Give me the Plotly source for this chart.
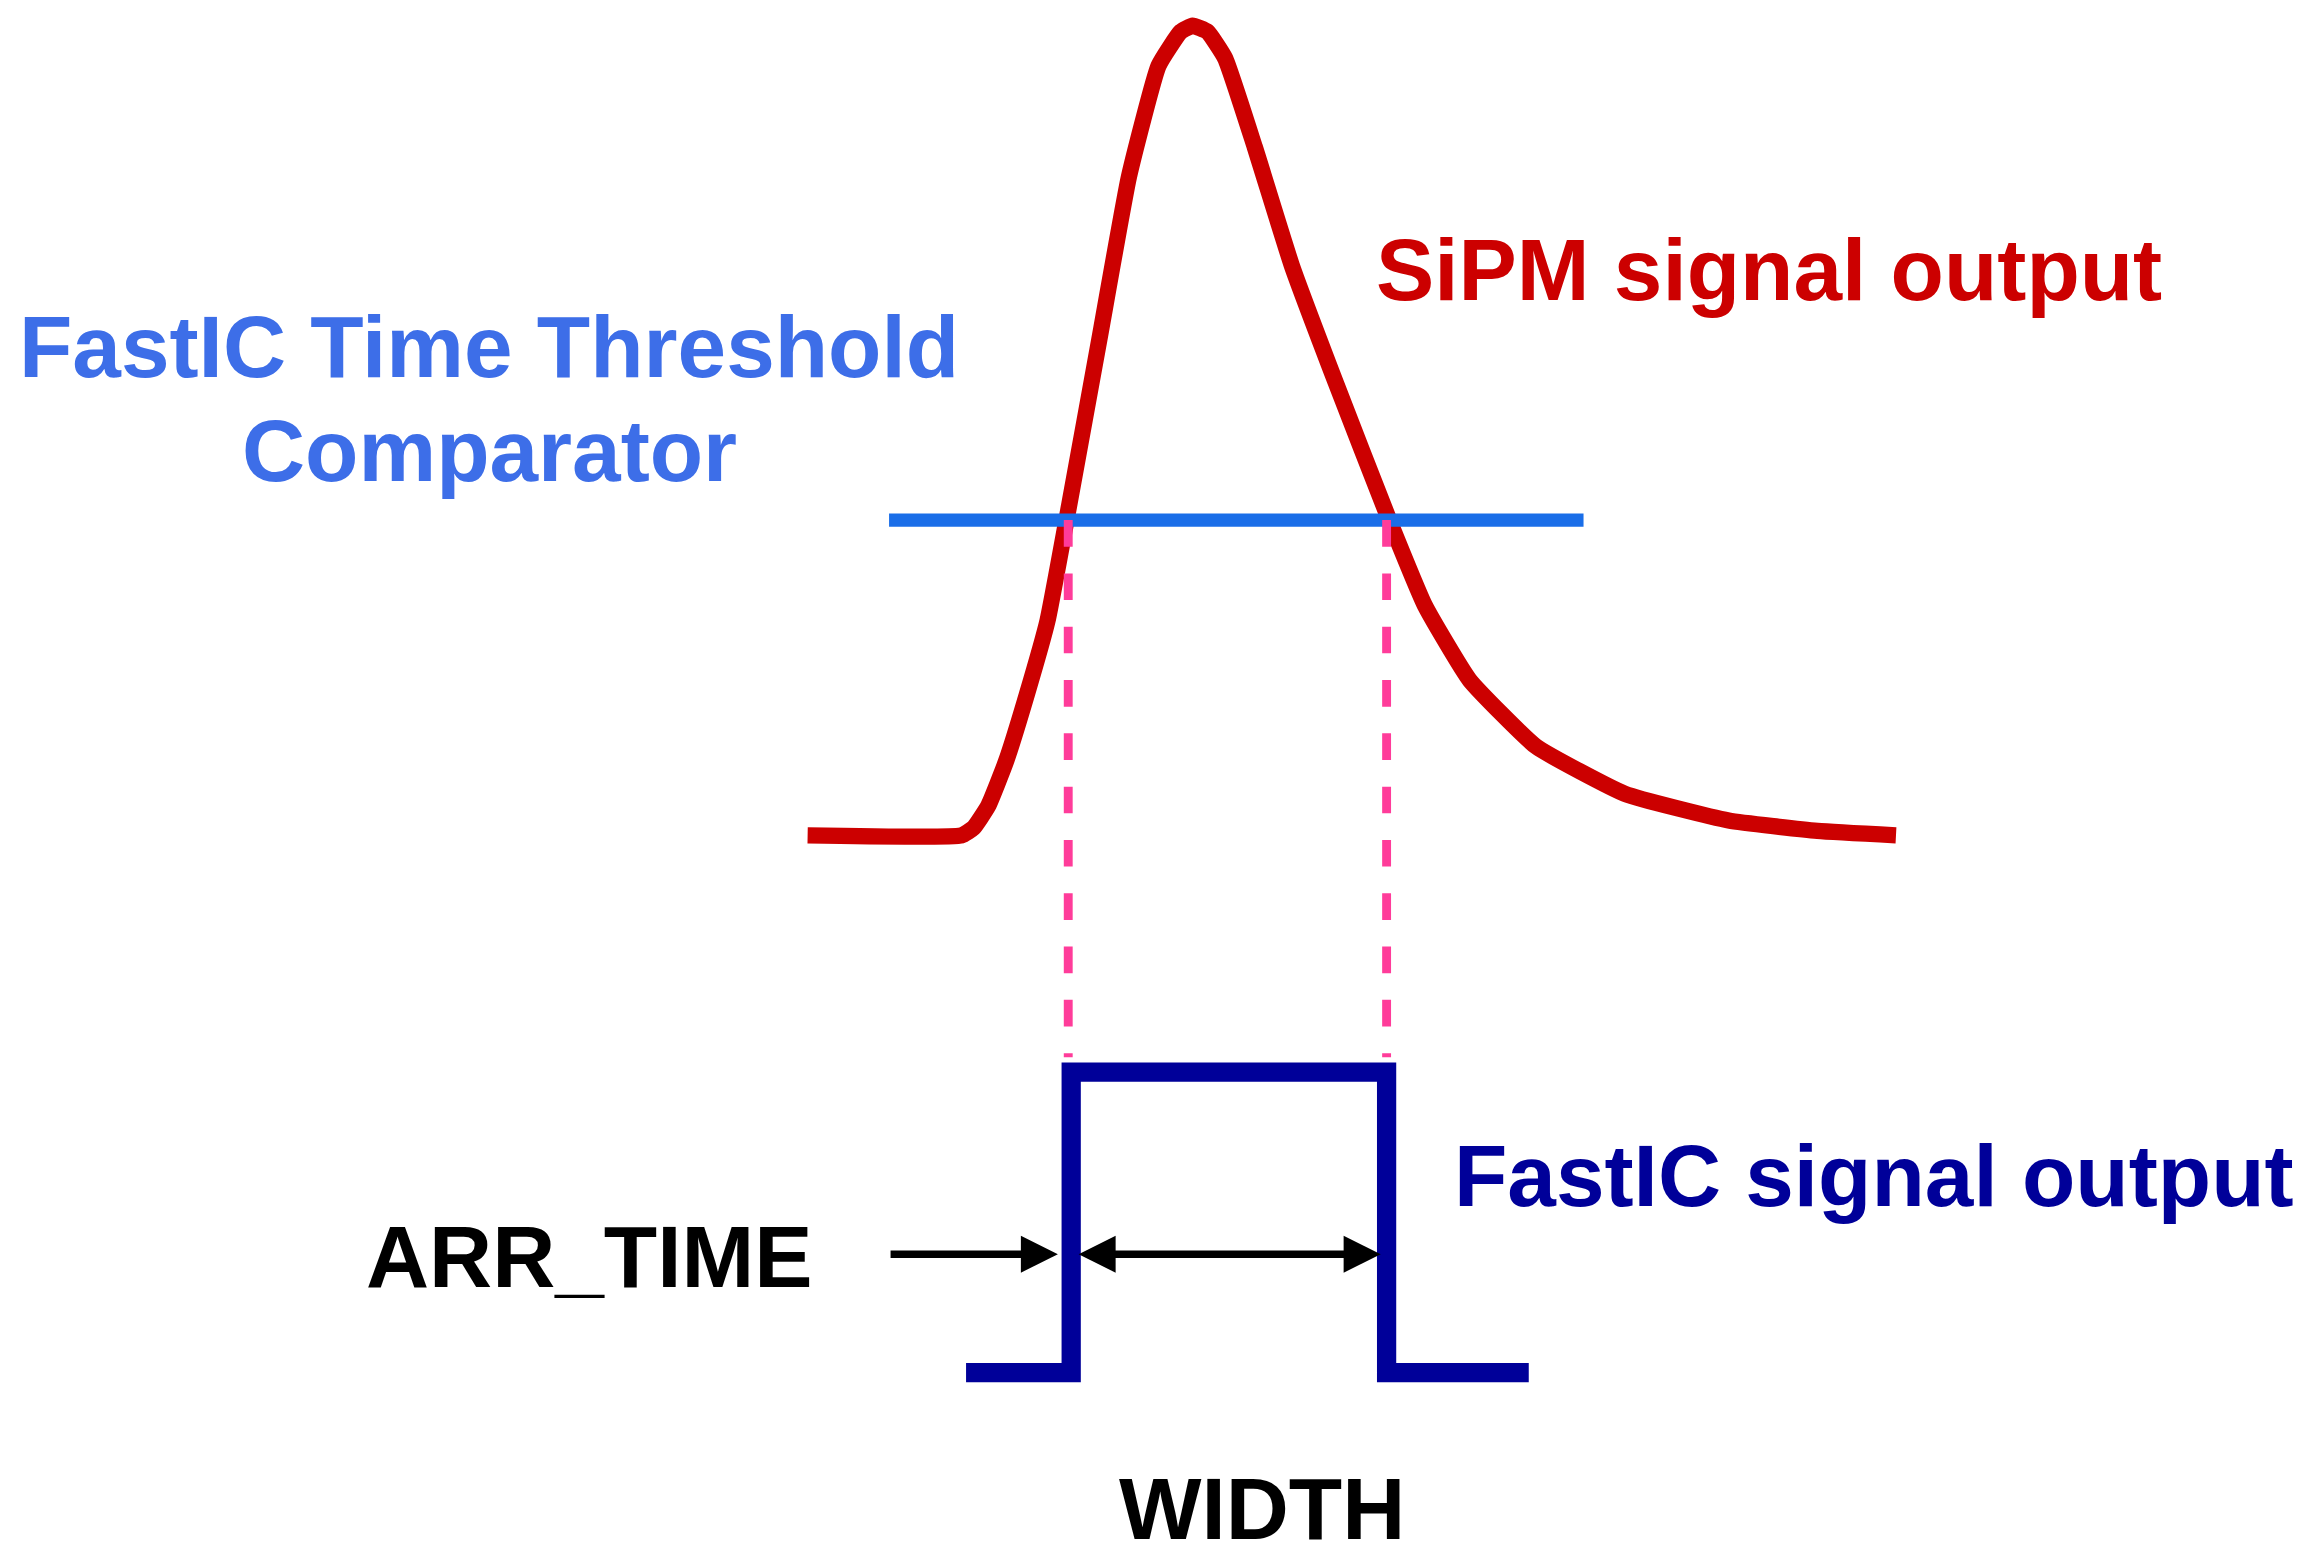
import plotly.graph_objects as go

# coordinates in a 1560 x 1052 drawing space (y grows downwards)
sipm_x = [548, 652, 660, 670, 682, 696, 710, 725, 745, 765, 785, 800, 808, 818, 830, 850, 875, 905, 940, 965, 995, 1040, 1100, 1170, 1230, 1283]
sipm_y = [565, 565, 560, 545, 515, 470, 420, 340, 230, 120, 45, 22, 18, 22, 40, 100, 180, 260, 350, 410, 460, 505, 537, 555, 562, 565]

thr_x = [603, 1072]
thr_y = [352, 352]

cross_x = [724, 939]
cross_y = [352, 715]

pulse_x = [655, 726, 726, 939, 939, 1035]
pulse_y = [928, 928, 725, 725, 928, 928]

S = 2310 / 1560

fig = go.Figure()
fig.add_trace(go.Scatter(x=sipm_x, y=sipm_y, mode="lines", line=dict(color="#cc0000", width=11 * S, shape="spline", smoothing=0.4)))
fig.add_trace(go.Scatter(x=thr_x, y=thr_y, mode="lines", line=dict(color="#1a6ee8", width=9 * S)))
for cx in cross_x:
    fig.add_trace(go.Scatter(x=[cx, cx], y=cross_y, mode="lines", line=dict(color="#ff3c9a", width=6 * S, dash="dash")))
fig.add_trace(go.Scatter(x=pulse_x, y=pulse_y, mode="lines", line=dict(color="#000099", width=13 * S)))

# arrows
fig.add_annotation(x=717, y=848, ax=603, ay=848, xref="x", yref="y", axref="x", ayref="y",
                   text="", showarrow=True, arrowhead=2, arrowsize=1.0, arrowwidth=5 * S, arrowcolor="black")
fig.add_annotation(x=935, y=848, ax=730, ay=848, xref="x", yref="y", axref="x", ayref="y",
                   text="", showarrow=True, arrowhead=2, startarrowhead=2, arrowside="end+start",
                   arrowsize=1.0, startarrowsize=1.0, arrowwidth=5 * S, arrowcolor="black")

font = "Liberation Sans"
texts = [
    ("<b>SiPM signal output</b>", 1197, 183, "#cc0000"),
    ("<b>FastIC Time Threshold</b>", 333, 235, "#3d6ee8"),
    ("<b>Comparator</b>", 333, 305, "#3d6ee8"),
    ("<b>FastIC signal output</b>", 1268, 795, "#000099"),
    ("<b>ARR_TIME</b>", 401, 850, "black"),
    ("<b>WIDTH</b>", 855, 1020, "black"),
]
for t, x, y, c in texts:
    fig.add_annotation(x=x, y=y, text=t, showarrow=False, xref="x", yref="y",
                       font=dict(family=font, size=59 * S, color=c))

fig.update_layout(
    width=2310, height=1557, showlegend=False,
    paper_bgcolor="white", plot_bgcolor="white",
    margin=dict(l=0, r=0, t=0, b=0, pad=0),
)
fig.update_xaxes(range=[8, 1568], visible=False, fixedrange=True)
fig.update_yaxes(range=[1058, 6], visible=False, fixedrange=True)

fig.write_html("out.html")
